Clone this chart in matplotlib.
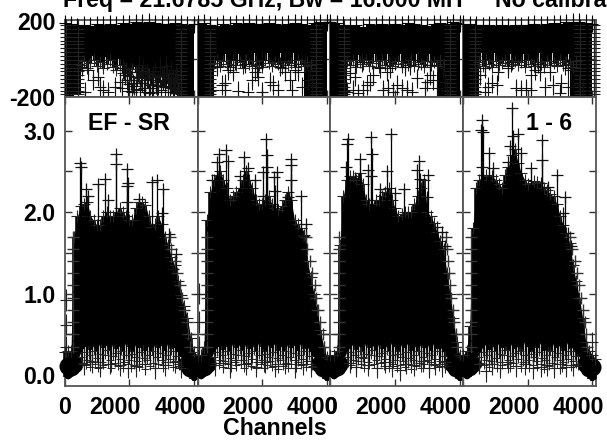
import matplotlib
matplotlib.use("Agg")
import matplotlib.pyplot as plt
from matplotlib.transforms import ScaledTranslation

plt.rcParams['font.family'] = ['Liberation Sans', 'DejaVu Sans']
plt.rcParams['font.weight'] = 'bold'

channels = list(range(0, 4200, 100))

amp_high = [
    [.28,.30,.30,1.70,1.95,2.07,2.10,2.13,1.95,1.90,1.84,1.84,1.95,2.00,1.95,1.95,2.00,2.05,2.00,1.95,1.90,1.90,2.05,2.13,2.12,2.09,1.95,1.82,1.85,1.95,1.85,1.70,1.60,1.45,1.35,1.15,.98,.85,.70,.45,.28,.25],
    [.25,.25,.35,1.90,2.25,2.40,2.45,2.50,2.40,2.30,2.15,2.20,2.25,2.30,2.40,2.50,2.40,2.30,2.15,2.10,2.10,2.15,2.20,2.10,2.05,2.03,2.08,2.15,2.25,2.15,1.90,1.85,1.80,1.72,1.40,1.20,1.00,.80,.55,.35,.22,.20],
    [.25,.25,.30,1.60,2.20,2.40,2.44,2.44,2.40,2.48,2.35,2.15,2.10,2.10,2.15,2.15,2.20,2.25,2.30,2.15,2.05,1.95,1.98,2.00,2.00,2.00,2.10,2.20,2.30,2.40,2.00,1.95,1.87,1.75,1.65,1.55,1.25,1.00,.70,.40,.25,.22],
    [.25,.30,.60,1.80,2.30,2.40,2.45,2.46,2.44,2.44,2.40,2.35,2.30,2.45,2.56,2.70,2.77,2.60,2.48,2.40,2.34,2.36,2.38,2.37,2.36,2.30,2.27,2.22,2.20,2.10,1.95,1.84,1.74,1.62,1.35,1.15,.95,.70,.40,.30,.25,.20],
]
amp_low = [-.03,-.05,-.03,.05,.18,.28,.34,.38,.31,.36,.30,.40,.33,.37,.29,.39,.32,.36,.30,.41,.34,.28,.38,.33,.40,.30,.36,.29,.39,.33,.37,.30,.40,.32,.34,.28,.22,.14,.02,-.05,-.07,-.05]

blob_ch = [100, 190, 280, 3800, 3890, 4000]
blob_amp = [.11, .10, .14, .14, .09, .10]

fringe_ch = list(range(500, 3600, 50))
fringe_amp = [.22,.15,.28,.12,.19,.25,.10,.17,.30,.14,.21,.09,.26,.16,.12,.24,.31,.13,.18,.08,.23,.15,.27,.11,.20,.29,.09,.16,.24,.13,
              .19,.08,.26,.12,.22,.17,.10,.28,.14,.21,.07,.18,.25,.11,.30,.15,.09,.22,.13,.27,.19,.08,.16,.24,.12,.20,.29,.10,.17,.23,.14,.11]

peak_ch = [
    [479,510,1591,1581,1931,1952,1931,1251,1025,664,736,2694,2869,3054,2312,1941,3003,3239,3445,3363,1355],
    [2117,2158,2158,881,675,593,953,1437,1550,2889,2879,2879,2034,2447,2364,1313,1777,3199,2395,2807,3353,3271,2034,438],
    [1873,1245,555,503,1296,915,1173,472,1760,2738,2666,3006,2769,2285,1996,1533,2975,3284,3439,3541,760,1245],
    [1525,588,536,598,2442,1700,1545,1463,1803,794,2442,1391,2112,588,927,2905,3142,3090,3245,3348,2627],
]
peak_amp = [
    [2.60,2.55,2.71,2.59,2.53,2.36,2.32,2.41,2.34,2.28,2.20,2.37,2.40,2.28,2.16,2.12,1.99,1.73,1.48,1.30,2.15],
    [2.90,2.70,2.56,2.76,2.71,2.62,2.63,2.68,2.54,2.65,2.58,2.39,2.49,2.49,2.43,2.44,2.40,2.20,2.26,2.19,1.86,1.71,2.20,2.39],
    [2.96,2.92,2.90,2.84,2.71,2.65,2.52,2.55,2.51,2.63,2.52,2.45,2.41,2.28,2.24,2.29,2.19,1.82,1.75,1.58,2.42,2.44],
    [3.28,3.13,3.01,2.98,2.88,2.96,2.94,2.81,2.73,2.72,2.64,2.62,2.54,2.56,2.54,2.45,2.18,1.99,1.74,1.58,2.31],
]

floor_ch = [
    [60,60,60,600,850,1100,1400,1700,1950,2200,2500,2800,3100,3400,3600],
    [40,40,40,550,800,1000,1200,1500,1800,2100,2400,2700,3000,3250,3500],
    [600,800,950,1150,1450,1700,1900,2150,2350,2600,2850,3050,3250,3450,3550],
    [500,700,900,1150,1400,1650,1900,2150,2400,2600,2800,3000,3200,3400,4000],
]
floor_amp = [
    [.92,.62,.35,.13,.16,.10,.14,.12,.09,.11,.13,.08,.12,.16,.09],
    [1.00,.65,.35,.12,.15,.09,.18,.13,.10,.16,.11,.14,.09,.13,.10],
    [.15,.10,.22,.12,.09,.16,.11,.06,.14,.12,.17,.09,.13,.11,.16],
    [.14,.05,.13,.09,.16,.11,.13,.08,.10,.12,.09,.14,.10,.12,.40],
]
edge_amp = [.35,.5,.65,.8,.95,1.1,1.25,1.4,1.55,1.7]
edge_left_ch = [270,280,260,250]
edge_right_ch = [
    [3880,3820,3780,3700,3620,3560,3480,3400,3300,3250],
    [3910,3870,3800,3740,3680,3620,3540,3470,3400,3340],
    [3920,3880,3830,3780,3740,3700,3670,3640,3600,3560],
    [3850,3800,3760,3700,3640,3590,3520,3460,3380,3320],
]

phase_ch = list(range(0, 4200, 200))
phase_high = [
    [186,180,170,178,172,180,176,184,178,186,182,190,188,192,186,184,180,186,182,178,180],
    [182,188,176,172,182,178,186,180,188,184,180,186,182,178,184,188,182,176,186,190,188],
    [190,186,176,172,178,168,180,174,182,176,184,178,186,182,176,172,182,186,180,190,186],
    [184,180,176,174,178,172,176,170,176,174,178,182,176,180,186,184,190,192,194,188,184],
]
phase_low = [
    [-195,-195,-190,10,15,15,10,5,0,-30,-40,-40,-45,-55,-65,-80,-100,-170,-195,-195,-195],
    [-195,-195,-195,25,25,30,25,30,25,30,25,30,25,30,25,30,25,-195,-195,-195,-195],
    [-195,-195,-195,25,22,28,22,28,25,28,22,28,25,28,22,28,25,-195,-195,-195,-195],
    [-195,-195,-195,30,25,30,30,25,30,25,30,25,30,25,30,25,25,-195,-195,-195,-195],
]
phase_fringe_ch = list(range(500, 3600, 100))
phase_fringe_val = [
    [-30,-10,-45,-20,-5,-35,-15,-50,-25,-8,-40,-60,-30,-75,-45,-90,-55,-70,-100,-65,-110,-80,-130,-95,-120,-85,-140,-105,-150,-125,-160],
    [-20,-5,-35,-10,-25,-40,-8,-30,-15,-45,-5,-25,-38,-12,-30,-42,-8,-22,-35,-15,-28,-45,-10,-32,-20,-40,-6,-26,-36,-14,-30],
    [-10,-30,-5,-42,-18,-28,-8,-35,-22,-12,-40,-6,-30,-16,-38,-24,-10,-44,-20,-32,-8,-36,-14,-26,-42,-12,-30,-18,-38,-6,-24],
    [-15,-35,-8,-28,-40,-12,-30,-20,-5,-38,-25,-10,-32,-18,-42,-6,-28,-36,-14,-24,-44,-10,-30,-20,-38,-8,-34,-16,-26,-40,-12],
]
phase_edge = [-185,-165,-145,-125,-105,-85,-65,-45,-25,-5,15,35,55,75,95,115,135,155,175]
phase_edge_ch = [[60, 420, 3600], [380, 3650], [410, 3700], [350, 3620, 4060]]
phase_scatter_ch = [
    [531,737,892,1046,1098,634,1201,1355,1561,1819,1922,2025,2128,2230,2333,2436,2539,2642,2745,2848,2951,3054,3157,3260,3363,3466,3569,1700,2200,2600,3000,3300,2900,3150,3400,2300,2500,2750,
     1780,1870,1960,2060,2160,2270,2380,2480,2580,2690,2790,2890,2990,3090,3190,3290,3390,3490,
     1850,2000,2100,2360,2450,2560,2700,2830,2940,3110,3240,3340,3440,3540],
    [953,1108,850,747,490,850,1262,1777,1828,1880,1674,2240,2343,1983,1571,2550,2704,2858,3013,3116,3219,2910,3425,3528,3476,2498,1159,1983,2704,1468,593,3322],
    [606,760,503,709,863,1018,1121,1224,1327,1533,1739,1842,1636,1790,1945,2048,2203,2357,2512,2306,2460,2666,2975,3078,3181,2924,3284,3541,3490,967,2718,3078,3593,451],
    [670,515,1082,1391,1494,876,773,1030,670,1649,1803,1957,2112,2215,2370,2112,2679,2524,2781,3039,2988,3142,3348,3245,3245,3600,3709,2318],
]
phase_scatter_val = [
    [-41,-59,-110,-93,-145,-171,-162,-171,-145,-50,-110,-67,-128,-93,-162,-50,-102,-136,-84,-171,-41,-110,-76,-145,-110,-180,-50,-120,-155,-180,-90,-60,-140,-35,-120,-30,-80,-175,
     -150,-85,-165,-110,-140,-70,-125,-175,-100,-150,-65,-120,-160,-90,-170,-125,-145,-95,
     -60,-130,-175,-95,-150,-75,-110,-135,-85,-145,-105,-170,-80,-160],
    [-59,-67,-128,-136,-162,-162,-166,-67,-50,-93,-110,-119,-136,-171,-171,-41,-67,-110,-59,-67,-145,-162,-110,-136,-59,-162,-7,-7,-16,-24,-41,-24],
    [-76,-93,-171,-162,-180,-162,-136,-119,-84,-50,-67,-50,-162,-153,-171,-136,-153,-162,-171,-41,-33,-102,-119,-84,-110,-153,-153,-119,-50,-16,-7,-33,-162,-33],
    [-50,-84,-67,-50,-16,-128,-145,-136,-171,-153,-162,-153,-162,-59,-67,-84,-67,-145,-136,-128,-180,-33,-59,-50,-145,-136,-162,-24],
]
xticks = [0, 2000, 4000]
xticklabels = ['0', '2000', '4000']
title_left = 'Freq = 21.6785 GHz, Bw = 16.000 MH'
title_right = 'No calibra'
baseline_label = 'EF - SR'
stokes_label = '1 - 6'
xlabel = 'Channels'

W, H = 607, 440
fig = plt.figure(figsize=(W / 100, H / 100), dpi=100)
edges = [64.5, 197.5, 330.4, 463.3, 595.8]
AXC = '#555555'
FS = 16.7
MS = 9
MEW = 0.8


def box(x0, x1, ytop, ybot):
    return [x0 / W, 1 - ybot / H, (x1 - x0) / W, (ybot - ytop) / H]


def style(ax):
    for s in ax.spines.values():
        s.set_color(AXC)
        s.set_linewidth(1.3)
    ax.tick_params(direction='in', length=5, width=1.0, color='#333333', top=True, right=True,
                   labelsize=FS)
    ax.tick_params(axis='y', pad=6.5)
    ax.tick_params(axis='x', pad=7)
    ax.set_xlim(0, 4110)
    ax.set_xticks(xticks)


shift = ScaledTranslation(-14 / 100, 0, fig.dpi_scale_trans)

for i in range(4):
    # phase panel
    a = fig.add_axes(box(edges[i], edges[i + 1], 20.5, 97.3))
    style(a)
    a.set_ylim(-200, 200)
    a.set_yticks([-200, 0, 200])
    a.set_xticklabels([])
    if i == 0:
        a.set_yticklabels(['-200', '', '200'])
    else:
        a.set_yticklabels([])
    a.fill_between(phase_ch, phase_low[i], phase_high[i], step='mid', color='black', lw=0, zorder=3, clip_on=False)
    a.errorbar(phase_ch, phase_high[i], yerr=45, fmt='+', ms=MS, mew=MEW, color='black', elinewidth=0.8,
               zorder=4, clip_on=False)
    a.vlines(phase_fringe_ch, phase_fringe_val[i], 40, color='black', lw=2.3, zorder=3, clip_on=False)
    a.plot(phase_fringe_ch, phase_fringe_val[i], '+', ms=MS, mew=MEW, color='#222222', zorder=4, clip_on=False)
    a.errorbar(phase_scatter_ch[i], phase_scatter_val[i], yerr=50, fmt='+', ms=MS, mew=MEW,
               color='#111111', elinewidth=0.8, zorder=4, clip_on=False)
    for ec in phase_edge_ch[i]:
        a.plot([ec] * len(phase_edge), phase_edge, '+', ms=MS, mew=MEW, color='#222222',
               zorder=4, clip_on=False)

    # amplitude panel
    b = fig.add_axes(box(edges[i], edges[i + 1], 97.3, 386))
    style(b)
    b.set_ylim(-0.135, 3.41)
    b.set_yticks([0, .5, 1, 1.5, 2, 2.5, 3])
    b.set_xticklabels(xticklabels)
    for lab in b.get_xticklabels()[1:]:
        lab.set_transform(lab.get_transform() + shift)
    if i == 0:
        b.set_yticklabels(['0.0', '', '1.0', '', '2.0', '', '3.0'])
    else:
        b.set_yticklabels([])
    b.fill_between(channels, amp_low, amp_high[i], color='black', lw=0, zorder=3, clip_on=False)
    b.vlines(channels, amp_low, amp_high[i], color='black', lw=2.6, zorder=3, clip_on=False)
    b.plot(blob_ch, blob_amp, 'o', ms=13, color='black', mew=0, zorder=3, clip_on=False)
    b.vlines(fringe_ch, fringe_amp, .45, color='black', lw=0.9, zorder=3, clip_on=False)
    b.plot(fringe_ch, fringe_amp, '+', ms=MS - 3, mew=0.7, color='#222222', zorder=3, clip_on=False)
    b.plot(channels, amp_high[i], '+', ms=MS, mew=MEW, color='#222222', zorder=4, clip_on=False)
    b.vlines(peak_ch[i], 1.0, peak_amp[i], color='black', lw=0.9, zorder=4, clip_on=False)
    b.plot(peak_ch[i], peak_amp[i], '+', ms=MS, mew=0.9, color='#111111', zorder=5, clip_on=False)
    b.plot([edge_left_ch[i]] * len(edge_amp), edge_amp, '+', ms=MS, mew=1.0, color='#333333', zorder=4, clip_on=False)
    b.plot(edge_right_ch[i], edge_amp, '+', ms=MS, mew=1.0, color='#333333', zorder=4, clip_on=False)
    b.errorbar(floor_ch[i], floor_amp[i], yerr=0.13, fmt='+', ms=MS, mew=0.8, color='#222222', elinewidth=0.8,
               zorder=4, clip_on=False)

fig.text(63 / W, 1 - 6.7 / H, title_left, fontsize=FS, fontweight='bold', ha='left', va='baseline')
fig.text(495 / W, 1 - 6.7 / H, title_right, fontsize=FS, fontweight='bold', ha='left', va='baseline')
fig.text(129 / W, 1 - 124 / H, baseline_label, fontsize=FS, fontweight='bold', ha='center', va='center', zorder=10)
fig.text(549.5 / W, 1 - 123 / H, stokes_label, fontsize=FS, fontweight='bold', ha='center', va='center', zorder=10)
fig.text(275 / W, 1 - 428 / H, xlabel, fontsize=FS, fontweight='bold', ha='center', va='center')

fig.savefig('out.png', dpi=100)
